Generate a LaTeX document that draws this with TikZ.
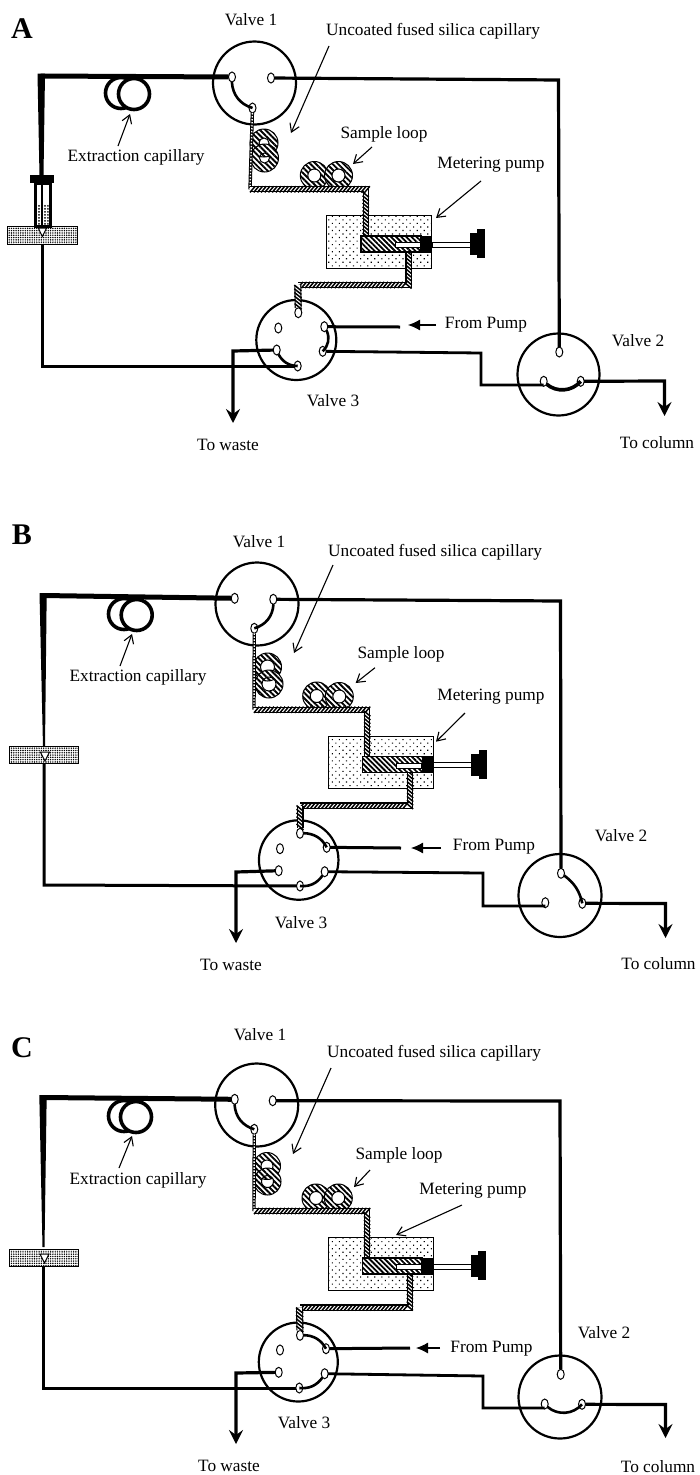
\documentclass[tikz,border=0pt]{standalone}
\usepackage{fontspec}
\setmainfont{Liberation Serif}
\usetikzlibrary{arrows.meta,patterns.meta,shapes.geometric,decorations.pathreplacing}
\tikzset{
 lbl/.style={inner sep=0pt,yshift=-.8pt,font=\fontsize{17.3}{20}\selectfont},
 plabel/.style={inner sep=0pt,font=\fontsize{30}{32}\selectfont\bfseries},
 valve/.style={circle,draw,line width=2.2pt,inner sep=0pt,outer sep=0pt,minimum size=#1},
 port/.style={ellipse,draw,fill=white,line width=1pt,inner sep=0pt,outer sep=0pt,minimum width=7pt,minimum height=10pt},
 tube/.style={line width=#1,line join=miter},
 tube/.default=3.5pt,
 link/.style={line width=#1},
 link/.default=2.6pt,
 thinarr/.style={line width=1.1pt,-{Straight Barb[length=8pt,width=10pt]}},
 pumparr/.style={line width=1.1pt,-{Latex[length=12pt,width=11pt]}},
 outarr/.style={line width=3.2pt,-{Stealth[length=14pt,width=14pt,inset=5pt]}},
 coilb/.style={draw,line width=3.6pt,fill=white},
 pipe/.style={preaction={draw,line width=#1,black},preaction={draw,line width=#1-2.2pt,white},
   postaction={draw,decorate,line width=1.5pt,decoration={border,segment length=3.7pt,amplitude=#1*1.3,angle=50,raise=-.5*#1}}},
 pipe/.default=6.2pt,
 pipethin/.style={preaction={draw,line width=3.4pt,black},postaction={draw,line width=1.4pt,white,dash pattern=on 1.5pt off 1.5pt}},
 ringh/.style={draw,line width=1pt,even odd rule,preaction={fill=white,even odd rule},pattern={Lines[angle=-45,distance=3.9pt,line width=1.9pt]}},
 pumpbox/.style={draw,line width=1pt,fill=white,postaction={pattern={Dots[angle=45,distance=5pt,radius=.8pt]}}},
 blockb/.style={draw,line width=1pt,fill=white,postaction={pattern={Dots[distance=2.3pt,radius=.8pt]}}},
 chamberh/.style={draw,line width=1.6pt,preaction={fill=white},pattern={Lines[angle=-45,distance=3.6pt,line width=1.8pt]}},
}
% pump body, drawn in the frame of panel A (the surrounding scope shifts it)
\newcommand{\PumpBox}{\node[pumpbox,inner sep=0pt,minimum width=105pt,minimum height=52.6pt] (box) at (379.2,242) {};}
\newcommand{\PumpFront}{%
 \node[chamberh,inner sep=0pt,minimum width=60pt,minimum height=16pt] (chamber) at (391,244) {};
 \draw[line width=.6pt,fill=white] (395,242.6) rectangle (420,247.6);
 \node[fill=black,inner sep=0pt,minimum width=12pt,minimum height=17pt] (plunger) at (426,244) {};
 \draw[line width=.9pt,fill=white] (432,242) rectangle (470,247);
 \node[fill=black,inner sep=0pt,minimum width=9pt,minimum height=22pt] (knoba) at (474,244) {};
 \node[fill=black,inner sep=0pt,minimum width=8pt,minimum height=29pt] (knobb) at (481,243.5) {};
}
\newcommand{\arr}[3]{\coordinate (#1s) at #2; \coordinate (#1e) at #3; \draw[thinarr] (#1s) -- (#1e);}
\begin{document}
\begin{tikzpicture}[x=1pt,y=-1pt]
\useasboundingbox (0,0) rectangle (699,1475);
\fill[white] (0,0) rectangle (699,1475);

%%%%%%%%%%%%%%%%%% PANEL A
\begin{scope}[name prefix=a-]
\node[plabel] (tag) at (22,29) {A};
\node[lbl] (lv1) at (251,19) {Valve 1};
\node[lbl] (lun) at (433,30) {Uncoated fused silica capillary};
\node[lbl] (lex) at (136,157) {Extraction capillary};
\node[lbl] (lsl) at (384,134) {Sample loop};
\node[lbl] (lmp) at (491,164) {Metering pump};
\node[lbl] (lv3) at (333,400) {Valve 3};
\node[lbl] (lw) at (228,444) {To waste};
\node[lbl] (lfp) at (486,324) {From Pump};
\node[lbl] (lv2) at (638,340) {Valve 2};
\node[lbl] (lc) at (657,442) {To column};
\arr{ua}{(329,46)}{(291,133)}
\arr{xa}{(118,146)}{(130,114)}
\arr{sa}{(372,147)}{(353,164)}
\arr{ma}{(481,181)}{(436,218)}
\coordinate (fps) at (436,325); \coordinate (fpe) at (408,325); \draw[pumparr] (fps) -- (fpe);
\node[valve=83pt] (v1) at (254.5,83) {};
\node[valve=80pt] (v3) at (296.3,340) {};
\node[valve=82pt] (v2) at (558.5,374.5) {};
\node[port] (p1a) at (232,77) {}; \node[port] (p1b) at (271,78) {}; \node[port] (p1c) at (252.5,108) {};
\node[port] (p3a) at (298.3,312.7) {}; \node[port] (p3b) at (278.3,328) {}; \node[port] (p3c) at (324.3,326.7) {};
\node[port] (p3d) at (276.7,350) {}; \node[port] (p3e) at (322.7,351.3) {}; \node[port] (p3f) at (297.7,366) {};
\node[port] (p2a) at (559.3,352) {}; \node[port] (p2b) at (543.7,381.3) {}; \node[port] (p2c) at (580.7,381.3) {};
% coils
\draw[coilb] (121,93) circle (15.5);
\draw[coilb] (134,94) circle (15.5);
\draw[ringh] (264,143) circle (14) (264,143) circle (5);
\draw[ringh] (264.5,158) circle (14) (264.5,158) circle (5);
\draw[ringh] (314.3,175.5) circle (14) (314.3,175.5) circle (6.5);
\draw[ringh] (338.5,175.5) circle (14) (338.5,175.5) circle (6.5);
% left line and syringe
\coordinate (tl) at (40.5,76);
\coordinate (bl) at (42.7,366);
\coordinate (sb) at (42.7,240);
\fill (37.5,73.5) -- (45,73.5) -- (43.5,176) -- (39.5,176) -- cycle;
\draw[tube=5pt] (tl) -- (p1a);
\draw[tube=3pt] (sb) -- (bl) -- (p3f);
\node[blockb,inner sep=0pt,minimum width=70pt,minimum height=17.4pt] (block) at (42.3,235.3) {};
\node[fill=black,inner sep=0pt,minimum width=24pt,minimum height=8pt] (cap) at (42,179) {};
\draw[line width=3pt,fill=white] (35,183) rectangle (50,226);
\draw[line width=2.4pt] (42.2,183) -- (42.2,226);
\fill[pattern={Dots[distance=3pt,radius=1pt]}] (36.5,204) rectangle (48.5,224);
\draw[line width=1pt,fill=white] (38.3,228) -- (46.7,228) -- (42.3,236.5) -- cycle;
% valve connections
\coordinate (r1) at (558.5,80);
\coordinate (w1) at (233,351); \coordinate (we) at (233,423);
\coordinate (q1) at (481,353); \coordinate (q2) at (481,385);
\coordinate (c1) at (664.5,381); \coordinate (ce) at (664.5,416);
\coordinate (pe) at (400,327);
\draw[tube=3.2pt] (p1b) -- (r1) -- (p2a);
\draw[link] (p1a) to[bend right=35] (p1c);
\draw[link] (p3c) to[bend left=35] (p3e);
\draw[link] (p3d) to[bend right=30] (p3f);
\draw[link=3.6pt] (p2b) to[bend right=45] (p2c);
\draw[tube=3pt] (p3c) -- (pe);
\draw[tube=2.8pt] (p3e) -- (q1) -- (q2) -- (q2 -| p2b.south);
\draw[tube=2.8pt,outarr] (p3d) -- (w1) -- (we);
\draw[tube=2.8pt,outarr] (p2c) -- (c1) -- (ce);
% pump and hatched pipes
\PumpBox
\coordinate (h1) at (250,189.3); \coordinate (h2) at (365.7,189.3); \coordinate (h3) at (365.7,238);
\coordinate (o1) at (408.5,250); \coordinate (o2) at (408.5,285); \coordinate (o3) at (297.8,285);
\path[pipethin] (p1c) -- (h1);
\path[pipe] (h1) -- (h2) -- (h3);
\path[pipe] (o1) -- (o2) -- (o3);
\path[pipe=7pt] (o3) -- (p3a);
\PumpFront
\end{scope}

%%%%%%%%%%%%%%%%%% PANEL B
\begin{scope}[name prefix=b-]
\node[plabel] (tag) at (22,535) {B};
\node[lbl] (lv1) at (259,541) {Valve 1};
\node[lbl] (lun) at (435,551) {Uncoated fused silica capillary};
\node[lbl] (lex) at (138,677) {Extraction capillary};
\node[lbl] (lsl) at (401,654) {Sample loop};
\node[lbl] (lmp) at (491,696) {Metering pump};
\node[lbl] (lv3) at (301,922) {Valve 3};
\node[lbl] (lw) at (231,964) {To waste};
\node[lbl] (lfp) at (494,846) {From Pump};
\node[lbl] (lv2) at (621,835) {Valve 2};
\node[lbl] (lc) at (658.5,963) {To column};
\arr{ua}{(333,565)}{(294,653)}
\arr{xa}{(120,666)}{(132,634)}
\arr{sa}{(375,667.7)}{(355.7,683)}
\arr{ma}{(465,713)}{(436,741.7)}
\coordinate (fps) at (441,848); \coordinate (fpe) at (411,848); \draw[pumparr] (fps) -- (fpe);
\node[valve=83pt] (v1) at (257,604) {};
\node[valve=79.5pt] (v3) at (298.7,860) {};
\node[valve=83pt] (v2) at (560,895.5) {};
\node[port] (p1a) at (234.7,598.3) {}; \node[port] (p1b) at (273.3,599.3) {}; \node[port] (p1c) at (254.3,628.3) {};
\node[port] (p3a) at (300,833.3) {}; \node[port] (p3b) at (280,848.7) {}; \node[port] (p3c) at (326.7,847.3) {};
\node[port] (p3d) at (278.7,870.7) {}; \node[port] (p3e) at (324.7,871.7) {}; \node[port] (p3f) at (300,886) {};
\node[port] (p2a) at (561,873.3) {}; \node[port] (p2b) at (545.3,902.7) {}; \node[port] (p2c) at (582.3,903.3) {};
\draw[coilb] (124,614) circle (15.5);
\draw[coilb] (136.7,615) circle (15.5);
\draw[ringh] (267.5,667) circle (14) (267.5,667) circle (7);
\draw[ringh] (269,684) circle (14) (269,684) circle (7);
\draw[ringh] (316.7,696) circle (14) (316.7,696) circle (6.5);
\draw[ringh] (339.3,696.5) circle (14) (339.3,696.5) circle (6.5);
\coordinate (tl) at (43,595.5);
\coordinate (sb) at (44,760);
\coordinate (bl) at (44,885);
\fill (39.5,593) -- (46.7,593) -- (45,747) -- (43,747) -- cycle;
\draw[tube=5pt] (tl) -- (p1a);
\draw[tube=3pt] (sb) -- (bl) -- (p3f);
\node[blockb,inner sep=0pt,minimum width=69.7pt,minimum height=17pt] (block) at (43.9,754.5) {};
\draw[line width=1pt,fill=white] (40.3,752) -- (49.5,752) -- (45,761) -- cycle;
\coordinate (r1) at (560.5,601);
\coordinate (w1) at (236,872); \coordinate (we) at (236,943);
\coordinate (q1) at (483,873); \coordinate (q2) at (483,906);
\coordinate (c1) at (665.5,903.5); \coordinate (ce) at (665.5,938);
\coordinate (pe) at (401,848);
\draw[tube=3.2pt] (p1b) -- (r1) -- (p2a);
\draw[link] (p1b) to[bend left=35] (p1c);
\draw[link] (p3a) to[bend left=30] (p3c);
\draw[link] (p3e) to[bend left=30] (p3f);
\draw[link] (p2a) to[bend left=20] (p2c);
\draw[tube=3pt] (p3c) -- (pe);
\draw[tube=2.8pt] (p3e) -- (q1) -- (q2) -- (q2 -| p2b.south);
\draw[tube=2.8pt,outarr] (p3d) -- (w1) -- (we);
\draw[tube=2.8pt,outarr] (p2c) -- (c1) -- (ce);
\begin{scope}[xshift=1.6pt,yshift=-520.5pt]\PumpBox\end{scope}
\coordinate (h1) at (254,709.7); \coordinate (h2) at (367.3,709.7); \coordinate (h3) at (367.3,758.5);
\coordinate (o1) at (410.1,770.5); \coordinate (o2) at (410.1,805.5); \coordinate (o3) at (300,805.5);
\path[pipethin] (p1c) -- (h1);
\path[pipe] (h1) -- (h2) -- (h3);
\path[pipe] (o1) -- (o2) -- (o3);
\path[pipe=7pt] (o3) -- (p3a);
\begin{scope}[xshift=1.6pt,yshift=-520.5pt]\PumpFront\end{scope}
\end{scope}

%%%%%%%%%%%%%%%%%% PANEL C
\begin{scope}[name prefix=c-]
\node[plabel] (tag) at (22,1048) {C};
\node[lbl] (lv1) at (260,1034) {Valve 1};
\node[lbl] (lun) at (434,1052) {Uncoated fused silica capillary};
\node[lbl] (lex) at (138,1180) {Extraction capillary};
\node[lbl] (lsl) at (399,1155) {Sample loop};
\node[lbl] (lmp) at (473,1190) {Metering pump};
\node[lbl] (lv3) at (304,1422) {Valve 3};
\node[lbl] (lw) at (229,1465.5) {To waste};
\node[lbl] (lfp) at (491.5,1348) {From Pump};
\node[lbl] (lv2) at (604,1332) {Valve 2};
\node[lbl] (lc) at (658,1465.5) {To column};
\arr{ua}{(331,1068)}{(293,1154)}
\arr{xa}{(119,1168)}{(132,1136)}
\arr{sa}{(370,1170)}{(354,1187)}
\arr{ma}{(462,1205)}{(396,1235)}
\coordinate (fps) at (440,1348); \coordinate (fpe) at (416,1348); \draw[pumparr] (fps) -- (fpe);
\node[valve=83pt] (v1) at (256.7,1105) {};
\node[valve=79pt] (v3) at (298.3,1362) {};
\node[valve=83pt] (v2) at (560,1397) {};
\node[port] (p1a) at (234.7,1099.3) {}; \node[port] (p1b) at (272.7,1100.7) {}; \node[port] (p1c) at (254.3,1129.3) {};
\node[port] (p3a) at (300,1335.3) {}; \node[port] (p3b) at (280,1350) {}; \node[port] (p3c) at (326,1348.7) {};
\node[port] (p3d) at (278.7,1372.3) {}; \node[port] (p3e) at (324.7,1373.7) {}; \node[port] (p3f) at (299.3,1388) {};
\node[port] (p2a) at (560.7,1374.3) {}; \node[port] (p2b) at (544.7,1404) {}; \node[port] (p2c) at (582,1404.3) {};
\draw[coilb] (124,1116) circle (15.5);
\draw[coilb] (136,1117) circle (15.5);
\draw[ringh] (267,1166) circle (13.5) (267,1166) circle (6);
\draw[ringh] (267.5,1181.5) circle (13.5) (267.5,1181.5) circle (6);
\draw[ringh] (316,1198) circle (14) (316,1198) circle (6.5);
\draw[ringh] (338.3,1198) circle (14) (338.3,1198) circle (6.5);
\coordinate (tl) at (43,1097.5);
\coordinate (sb) at (43.7,1262);
\coordinate (bl) at (43.7,1388);
\fill (39.3,1095) -- (46.7,1095) -- (44.5,1247) -- (42.5,1247) -- cycle;
\draw[tube=5pt] (tl) -- (p1a);
\draw[tube=3pt] (sb) -- (bl) -- (p3f);
\node[blockb,inner sep=0pt,minimum width=69.7pt,minimum height=17pt] (block) at (43.9,1257.5) {};
\draw[line width=1pt,fill=white] (40,1254) -- (49,1254) -- (44.5,1263) -- cycle;
\coordinate (r1) at (560,1101);
\coordinate (w1) at (236,1373); \coordinate (we) at (236,1444);
\coordinate (q1) at (483,1376); \coordinate (q2) at (483,1408);
\coordinate (c1) at (665.5,1404.5); \coordinate (ce) at (665.5,1438);
\coordinate (pe) at (410,1348);
\draw[tube=3.2pt] (p1b) -- (r1) -- (p2a);
\draw[link] (p1a) to[bend right=35] (p1c);
\draw[link] (p3a) to[bend left=30] (p3c);
\draw[link] (p3e) to[bend left=30] (p3f);
\draw[link] (p2b) to[bend right=45] (p2c);
\draw[tube=3pt] (p3c) -- (pe);
\draw[tube=2.8pt] (p3e) -- (q1) -- (q2) -- (q2 -| p2b.south);
\draw[tube=2.8pt,outarr] (p3d) -- (w1) -- (we);
\draw[tube=2.8pt,outarr] (p2c) -- (c1) -- (ce);
\begin{scope}[xshift=1.4pt,yshift=-1022pt]\PumpBox\end{scope}
\coordinate (h1) at (254,1211); \coordinate (h2) at (367.1,1211); \coordinate (h3) at (367.1,1260);
\coordinate (o1) at (409.9,1272); \coordinate (o2) at (409.9,1307.5); \coordinate (o3) at (299.5,1307.5);
\path[pipethin] (p1c) -- (h1);
\path[pipe] (h1) -- (h2) -- (h3);
\path[pipe] (o1) -- (o2) -- (o3);
\path[pipe=7pt] (o3) -- (p3a);
\begin{scope}[xshift=1.4pt,yshift=-1022pt]\PumpFront\end{scope}
\end{scope}
\end{tikzpicture}
\end{document}
